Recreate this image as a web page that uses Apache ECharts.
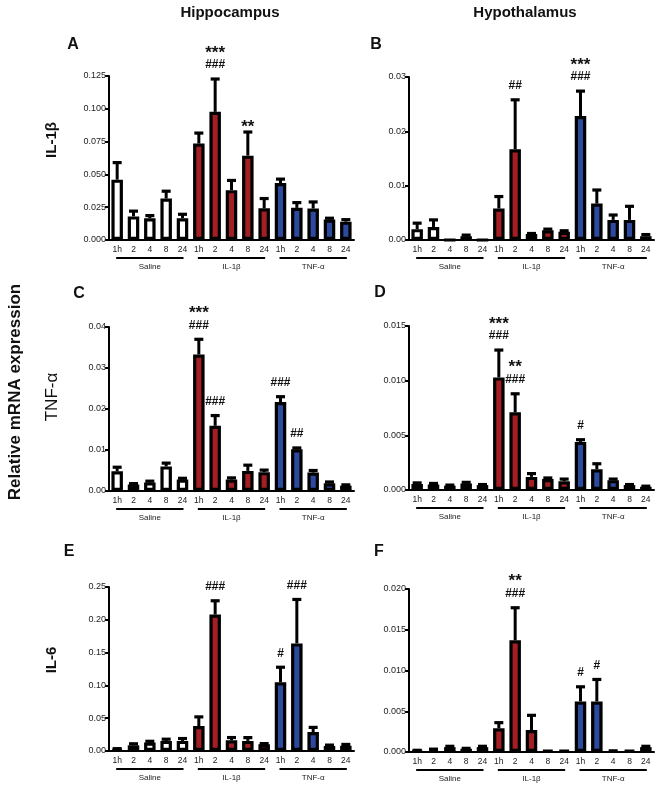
<!DOCTYPE html>
<html>
<head>
<meta charset="utf-8">
<script src="https://cdn.jsdelivr.net/npm/echarts@6/dist/echarts.min.js"></script>
<style>
html, body { margin: 0; padding: 0; background: #fff; }
#chart { width: 663px; height: 790px; }
</style>
</head>
<body>
<div id="chart"></div>
<script>
// x categories: time points within each treatment group
var timeLabels = ['1h', '2', '4', '8', '24', '1h', '2', '4', '8', '24', '1h', '2', '4', '8', '24'];
var groupNames = ['Saline', 'IL-1β', 'TNF-α'];
var groupSpans = [[0, 4], [5, 9], [10, 14]];
var groupColors = ['#ffffff', '#A31F24', '#2C4A9E'];

// A - hippocampus IL-1β
var hipIl1bMean = [0.046, 0.018, 0.0166, 0.0316, 0.0166, 0.0735, 0.0977, 0.038, 0.0643, 0.0242, 0.0434, 0.0245, 0.024, 0.0156, 0.014];
var hipIl1bSem = [0.013, 0.004, 0.002, 0.0056, 0.003, 0.008, 0.025, 0.0074, 0.018, 0.0074, 0.003, 0.004, 0.005, 0.001, 0.0015];
var hipIl1bStars = ['', '', '', '', '', '', '***', '', '**', '', '', '', '', '', ''];
var hipIl1bHashes = ['', '', '', '', '', '', '###', '', '', '', '', '', '', '', ''];

// B - hypothalamus IL-1β
var hypIl1bMean = [0.002, 0.0024, 0, 0.0007, 0, 0.0058, 0.0167, 0.0011, 0.0018, 0.0015, 0.0228, 0.0067, 0.0037, 0.0037, 0.0007];
var hypIl1bSem = [0.0011, 0.0013, 0, 0.0002, 0, 0.0022, 0.0091, 0.0001, 0.0002, 0.0002, 0.0046, 0.0025, 0.0009, 0.0025, 0.0003];
var hypIl1bStars = ['', '', '', '', '', '', '', '', '', '', '***', '', '', '', ''];
var hypIl1bHashes = ['', '', '', '', '', '', '##', '', '', '', '###', '', '', '', ''];

// C - hippocampus TNF-α
var hipTnfMean = [0.0048, 0.0016, 0.0021, 0.006, 0.0028, 0.0333, 0.0159, 0.0028, 0.0049, 0.0046, 0.0217, 0.0102, 0.0045, 0.0019, 0.0013];
var hipTnfSem = [0.001, 0.0002, 0.0003, 0.0008, 0.0003, 0.0037, 0.0025, 0.0004, 0.0014, 0.0005, 0.0013, 0.0003, 0.0005, 0.0003, 0.0002];
var hipTnfStars = ['', '', '', '', '', '***', '', '', '', '', '', '', '', '', ''];
var hipTnfHashes = ['', '', '', '', '', '###', '###', '', '', '', '###', '##', '', '', ''];

// D - hypothalamus TNF-α
var hypTnfMean = [0.00055, 0.0005, 0.0004, 0.0006, 0.00045, 0.0103, 0.0071, 0.0012, 0.001, 0.0008, 0.0044, 0.0019, 0.0009, 0.00045, 0.0003];
var hypTnfSem = [0.0001, 0.0001, 0.00005, 0.0001, 0.00005, 0.0025, 0.0017, 0.0003, 0.0001, 0.0002, 0.0002, 0.0005, 0.0001, 0.00005, 0.00005];
var hypTnfStars = ['', '', '', '', '', '***', '**', '', '', '', '', '', '', '', ''];
var hypTnfHashes = ['', '', '', '', '', '###', '###', '', '', '', '#', '', '', '', ''];

// E - hippocampus IL-6
var hipIl6Mean = [0.0026, 0.0087, 0.0128, 0.0154, 0.0154, 0.038, 0.208, 0.0164, 0.0154, 0.0103, 0.1047, 0.164, 0.029, 0.0077, 0.008];
var hipIl6Sem = [0.001, 0.0023, 0.002, 0.0026, 0.0036, 0.014, 0.021, 0.0041, 0.005, 0.001, 0.023, 0.067, 0.007, 0.0013, 0.002];
var hipIl6Stars = ['', '', '', '', '', '', '', '', '', '', '', '', '', '', ''];
var hipIl6Hashes = ['', '', '', '', '', '', '###', '', '', '', '#', '###', '', '', ''];

// F - hypothalamus IL-6
var hypIl6Mean = [0.00016, 0.0003, 0.0006, 0.0004, 0.0006, 0.0029, 0.0137, 0.0027, 0.0002, 0.0002, 0.0062, 0.0062, 0.0003, 0.0002, 0.0006];
var hypIl6Sem = [0.00005, 0.00005, 0.0001, 0.00005, 0.0001, 0.0007, 0.004, 0.0018, 0, 0, 0.0018, 0.0027, 0, 0, 0.0001];
var hypIl6Stars = ['', '', '', '', '', '', '**', '', '', '', '', '', '', '', ''];
var hypIl6Hashes = ['', '', '', '', '', '', '###', '', '', '', '#', '#', '', '', ''];

var FONT = '"Liberation Sans", Arial, sans-serif';

var panels = [
    { mean: hipIl1bMean, sem: hipIl1bSem, stars: hipIl1bStars, hashes: hipIl1bHashes, max: 0.125, interval: 0.025, digits: 3, grid: { left: 109, top: 76, width: 245, height: 164 } },
    { mean: hypIl1bMean, sem: hypIl1bSem, stars: hypIl1bStars, hashes: hypIl1bHashes, max: 0.03, interval: 0.01, digits: 2, grid: { left: 409, top: 77, width: 245, height: 163 } },
    { mean: hipTnfMean, sem: hipTnfSem, stars: hipTnfStars, hashes: hipTnfHashes, max: 0.04, interval: 0.01, digits: 2, grid: { left: 109, top: 327, width: 245, height: 164 } },
    { mean: hypTnfMean, sem: hypTnfSem, stars: hypTnfStars, hashes: hypTnfHashes, max: 0.015, interval: 0.005, digits: 3, grid: { left: 409, top: 326, width: 245, height: 164 } },
    { mean: hipIl6Mean, sem: hipIl6Sem, stars: hipIl6Stars, hashes: hipIl6Hashes, max: 0.25, interval: 0.05, digits: 2, grid: { left: 109, top: 587, width: 245, height: 164 } },
    { mean: hypIl6Mean, sem: hypIl6Sem, stars: hypIl6Stars, hashes: hypIl6Hashes, max: 0.02, interval: 0.005, digits: 3, grid: { left: 409, top: 589, width: 245, height: 163 } }
];

// error bar (upper only) + significance marks
function makeErrRender(p) {
    return function (params, api) {
        var j = api.value(0);
        var base = api.coord([j, api.value(1)]);
        var top = api.coord([j, api.value(2)]);
        var kids = [];
        if (api.value(2) > api.value(1)) {
            kids.push({ type: 'line', shape: { x1: base[0], y1: base[1], x2: top[0], y2: top[1] }, style: { stroke: '#000', lineWidth: 3 } });
            kids.push({ type: 'line', shape: { x1: top[0] - 4.5, y1: top[1], x2: top[0] + 4.5, y2: top[1] }, style: { stroke: '#000', lineWidth: 3.2 } });
        }
        var h = p.hashes[params.dataIndex];
        var s = p.stars[params.dataIndex];
        if (h) {
            kids.push({ type: 'text', style: { text: h, x: top[0], y: top[1] - 14, align: 'center', verticalAlign: 'middle', fontSize: 12, fontWeight: 'bold', fontFamily: FONT, fill: '#111' } });
        }
        if (s) {
            kids.push({ type: 'text', style: { text: s, x: top[0], y: top[1] - (h ? 26 : 5), align: 'center', verticalAlign: 'middle', fontSize: 17, fontWeight: 'bold', fontFamily: FONT, fill: '#111' } });
        }
        return { type: 'group', children: kids };
    };
}

// group underline + group name below the axis
function renderGroup(params, api) {
    var a = api.coord([api.value(0), 0]);
    var b = api.coord([api.value(1), 0]);
    return {
        type: 'group',
        children: [
            { type: 'line', shape: { x1: a[0] - 1, y1: a[1] + 18, x2: b[0] + 1, y2: b[1] + 18 }, style: { stroke: '#000', lineWidth: 2 } },
            { type: 'text', style: { text: groupNames[params.dataIndex], x: (a[0] + b[0]) / 2, y: a[1] + 27, align: 'center', verticalAlign: 'middle', fontSize: 8, fontFamily: FONT, fill: '#222' } }
        ]
    };
}

var grids = [], xAxes = [], yAxes = [], series = [];
panels.forEach(function (p, i) {
    grids.push(p.grid);
    xAxes.push({
        gridIndex: i,
        type: 'category',
        data: timeLabels,
        axisLine: { lineStyle: { color: '#000', width: 2 } },
        axisTick: { alignWithLabel: true, length: 4, lineStyle: { color: '#000', width: 1.5 } },
        axisLabel: { interval: 0, fontSize: 8.5, color: '#222', margin: 5, fontFamily: FONT }
    });
    yAxes.push({
        gridIndex: i,
        type: 'value',
        min: 0,
        max: p.max,
        interval: p.interval,
        splitLine: { show: false },
        axisLine: { show: true, lineStyle: { color: '#000', width: 2 } },
        axisTick: { show: true, length: 4, lineStyle: { color: '#000', width: 2 } },
        axisLabel: {
            fontSize: 9, color: '#222', margin: 3, fontFamily: FONT,
            formatter: function (v) { return v.toFixed(p.digits); }
        }
    });
    series.push({
        type: 'bar',
        xAxisIndex: i,
        yAxisIndex: i,
        barWidth: 11.5,
        z: 2,
        itemStyle: { borderColor: '#000', borderWidth: 3.2 },
        data: p.mean.map(function (v, j) {
            return { value: v, itemStyle: { color: groupColors[Math.floor(j / 5)] } };
        })
    });
    series.push({
        type: 'custom',
        xAxisIndex: i,
        yAxisIndex: i,
        z: 3,
        clip: false,
        encode: { x: 0, y: [1, 2] },
        renderItem: makeErrRender(p),
        data: p.mean.map(function (v, j) { return [j, v, v + p.sem[j]]; })
    });
    series.push({
        type: 'custom',
        xAxisIndex: i,
        yAxisIndex: i,
        z: 3,
        clip: false,
        encode: { x: [0, 1] },
        renderItem: renderGroup,
        data: groupSpans
    });
});

function txt(t, x, y, size, weight, rot) {
    return {
        type: 'text', x: x, y: y, rotation: rot || 0,
        style: { text: t, align: 'center', verticalAlign: 'middle', fontSize: size, fontWeight: weight, fontFamily: FONT, fill: '#111' }
    };
}

var chart = echarts.init(document.getElementById('chart'));
chart.setOption({
    animation: false,
    backgroundColor: '#fff',
    grid: grids,
    xAxis: xAxes,
    yAxis: yAxes,
    series: series,
    graphic: [
        txt('Hippocampus', 230, 13, 15, 'bold'),
        txt('Hypothalamus', 525, 13, 15, 'bold'),
        txt('A', 73, 45, 16, 'bold'),
        txt('B', 376, 45, 16, 'bold'),
        txt('C', 79, 294, 16, 'bold'),
        txt('D', 380, 293, 16, 'bold'),
        txt('E', 69, 552, 16, 'bold'),
        txt('F', 379, 552, 16, 'bold'),
        txt('IL-1β', 52, 140, 15, 'bold', Math.PI / 2),
        txt('TNF-α', 52, 397, 17, 'normal', Math.PI / 2),
        txt('IL-6', 52, 660, 15, 'bold', Math.PI / 2),
        txt('Relative mRNA expression', 15, 392, 17, 'bold', Math.PI / 2)
    ]
});
</script>
</body>
</html>
